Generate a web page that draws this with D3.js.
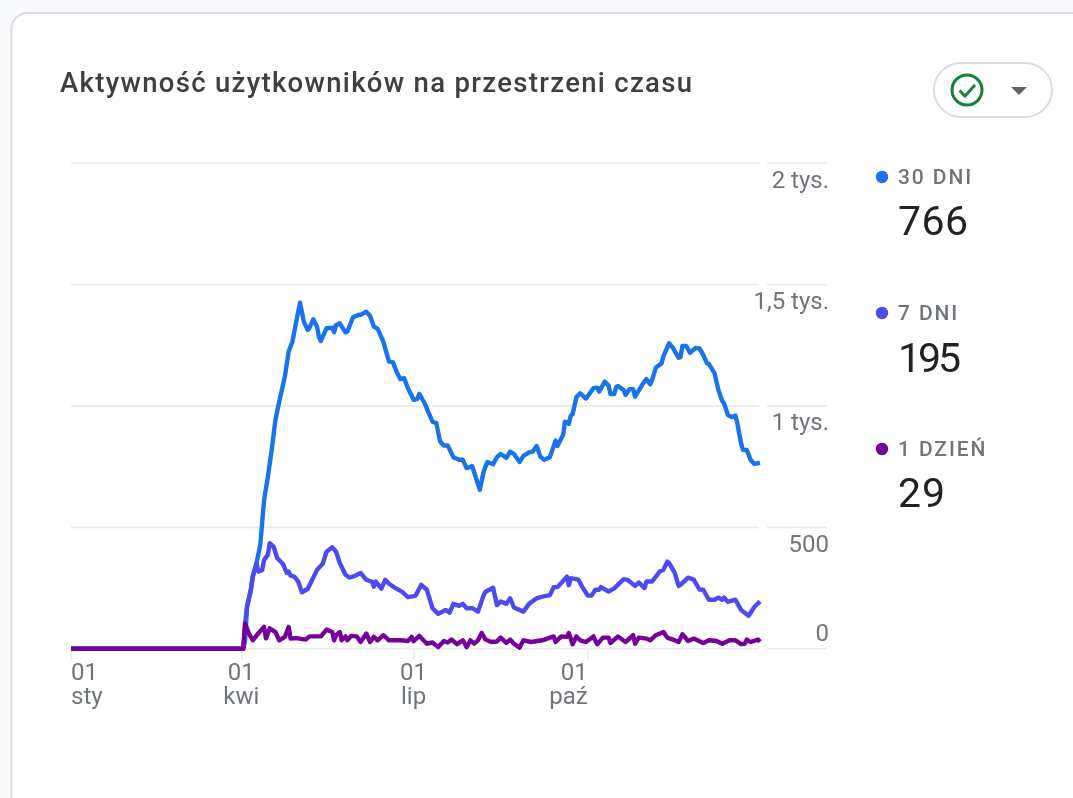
<!DOCTYPE html>
<html lang="pl">
<head>
<meta charset="utf-8">
<script src="https://cdn.jsdelivr.net/npm/d3@7"></script>
<style>
html,body{margin:0;padding:0;background:#f8f9fa;overflow:hidden}
svg{display:block;filter:blur(0.35px)}
text{font-family:Roboto,sans-serif}
</style>
</head>
<body>
<svg id="chart" width="1073" height="798"></svg>
<script>
const titleText = "Aktywność użytkowników na przestrzeni czasu";
const yTickValues = [0, 500, 1000, 1500, 2000];
const yTickLabels = ["0", "500", "1 tys.", "1,5 tys.", "2 tys."];
const xTickDays = [0, 90, 181, 273];
const xTickDay = ["01", "01", "01", "01"];
const xTickMonth = ["sty", "kwi", "lip", "paź"];
const seriesNames = ["30 DNI", "7 DNI", "1 DZIEŃ"];
const seriesTotals = ["766", "195", "29"];
const seriesColors = ["#1a73e8", "#4b4bef", "#75009a"];

const days30 = [0,91,92,93,95,96,98,100,102,104,106,108,110,113,115,117,119,121,123,125,126,128,130,131,132,135,138,139,140,142,145,146,149,152,153,156,158,160,162,165,168,170,172,174,176,178,181,183,184,187,189,191,193,195,197,199,202,205,207,209,212,215,216,218,219,220,223,225,227,230,232,234,237,239,242,244,246,248,250,253,256,257,260,261,263,264,265,267,269,272,276,278,279,282,284,285,287,288,289,292,293,295,297,298,302,304,306,307,309,312,313,316,318,321,322,323,325,327,330,332,334,336,337,340,342,344,345,347,349,351,352,354,355,357,359,361,364];
const values30 = [0,0,35,172,240,296,352,428,612,708,818,942,1018,1121,1224,1265,1347,1425,1347,1313,1321,1357,1326,1283,1267,1320,1322,1303,1332,1340,1303,1305,1365,1375,1375,1388,1370,1326,1317,1265,1182,1180,1141,1110,1114,1073,1025,1029,1050,1008,970,935,929,853,837,837,789,778,778,744,752,677,655,730,750,769,760,789,802,786,812,802,769,794,809,812,835,791,778,789,857,835,881,935,926,959,966,1036,1052,1030,1073,1075,1059,1100,1084,1049,1049,1077,1082,1065,1045,1069,1069,1038,1090,1110,1089,1107,1158,1175,1205,1258,1239,1198,1201,1247,1247,1219,1239,1237,1210,1175,1173,1134,1066,1021,1011,963,954,960,929,846,819,819,778,761,766];

const days7 = [0,91,92,93,95,96,98,99,101,102,104,105,107,109,112,114,115,116,118,120,122,125,127,130,133,135,138,140,142,145,147,149,153,156,159,160,161,164,166,168,171,175,178,182,185,188,191,194,198,200,202,205,207,209,212,215,218,219,223,225,227,230,232,234,239,242,246,249,253,255,257,262,263,264,268,270,273,275,277,279,280,284,287,292,294,298,300,303,304,307,311,313,315,316,319,321,322,326,329,332,334,337,340,342,344,345,347,351,354,358,361,364];
const values7 = [0,0,107,174,243,298,353,318,324,365,387,435,421,373,349,312,318,301,297,277,233,246,277,325,350,400,418,400,353,305,293,297,312,284,277,256,277,248,284,268,252,234,213,218,263,243,167,144,160,149,185,177,185,167,167,153,221,235,251,180,195,185,208,170,153,185,208,215,221,254,254,297,262,291,285,256,219,219,243,243,254,236,249,287,284,259,273,250,277,277,318,325,359,353,312,259,263,293,285,244,243,202,202,211,202,211,193,202,160,136,172,195];

const days1 = [0,91,92,94,96,99,102,103,105,108,110,113,115,116,119,124,126,132,135,138,139,140,142,143,145,146,148,151,153,156,158,160,162,165,168,174,178,180,181,184,188,191,194,197,199,201,204,207,209,211,213,215,217,219,222,225,227,230,232,234,237,239,243,249,255,256,259,262,263,265,267,269,272,276,278,281,284,285,289,293,297,298,300,304,306,309,313,315,318,321,323,326,329,334,337,341,344,348,351,354,356,357,359,363,364];
const values1 = [0,0,104,63,35,64,90,43,84,69,35,49,90,42,44,38,51,51,79,69,35,56,69,35,51,35,53,51,28,63,28,49,35,56,35,35,32,49,31,53,21,26,7,32,26,38,19,35,7,35,21,35,65,38,28,30,46,24,38,21,5,35,28,35,51,28,51,49,65,19,51,35,28,51,19,46,46,24,51,28,56,21,46,42,35,56,69,46,38,28,60,32,42,24,35,32,21,35,35,19,21,38,28,38,29];

const seriesDays = [days30, days7, days1];
const seriesValues = [values30, values7, values1];

const svg = d3.select("#chart");
const gridColor = "#e8eaed";
const labelColor = "#70757a";

// Card
svg.append("rect").attr("x", 11.5).attr("y", 13).attr("width", 1200).attr("height", 1000)
  .attr("rx", 16).attr("fill", "#fff").attr("stroke", "#dadce0").attr("stroke-width", 2);

svg.append("text").text(titleText).attr("x", 60).attr("y", 92)
  .attr("font-size", 27.5).attr("font-weight", 500).attr("fill", "#3c4043")
  .attr("textLength", 632).attr("lengthAdjust", "spacing");

// Status pill
svg.append("rect").attr("x", 934).attr("y", 63).attr("width", 118).attr("height", 54)
  .attr("rx", 27).attr("fill", "#fff").attr("stroke", "#dadce0").attr("stroke-width", 2);
svg.append("circle").attr("cx", 967).attr("cy", 90).attr("r", 15)
  .attr("fill", "none").attr("stroke", "#188038").attr("stroke-width", 3);
svg.append("path").attr("d", "M959.5 90.5l5.5 5.5 10-11").attr("fill", "none")
  .attr("stroke", "#188038").attr("stroke-width", 3);
svg.append("path").attr("d", "M1011 87h16l-8 8z").attr("fill", "#5f6368");

// Scales
const x = d3.scaleLinear().domain([0, 364]).range([71, 760]);
const y = d3.scaleLinear().domain([0, 2000]).range([648.8, 163]);

// Gridlines: plot part and label part
const gridSegments = [[71, 759], [767, 827]];
const grid = svg.append("g");
gridSegments.forEach(seg => {
  grid.append("g").selectAll("line").data(yTickValues).join("line")
    .attr("x1", seg[0]).attr("x2", seg[1])
    .attr("y1", d => y(d)).attr("y2", d => y(d))
    .attr("stroke", gridColor).attr("stroke-width", 1.6);
});

// Y axis labels
const yLabelOffset = d => d === 0 ? -8 : 24;
const yAxis = d3.axisRight(y).tickValues(yTickValues)
  .tickFormat(d => yTickLabels[yTickValues.indexOf(d)]).tickSize(0);
const gy = svg.append("g").attr("transform", "translate(829,0)").call(yAxis);
gy.select(".domain").remove();
gy.selectAll("text").attr("x", 0).attr("dy", null).attr("y", d => yLabelOffset(d))
  .attr("text-anchor", "end").attr("font-size", 24).attr("font-family", "Roboto,sans-serif")
  .attr("fill", labelColor);

// X axis ticks
const xAxis = d3.axisBottom(x).tickValues(xTickDays).tickSize(11).tickFormat("");
const gx = svg.append("g").attr("transform", "translate(0,649)").call(xAxis);
gx.select(".domain").remove();
gx.selectAll("line").attr("stroke", gridColor).attr("stroke-width", 1.6);
gx.selectAll("text").remove();

const xAnchors = ["start", "middle", "middle", "end"];
xTickDays.forEach((d, i) => {
  const t = svg.append("text").attr("text-anchor", xAnchors[i])
    .attr("font-size", 24).attr("fill", labelColor);
  t.append("tspan").attr("x", x(d)).attr("y", 680).text(xTickDay[i]);
  t.append("tspan").attr("x", x(d)).attr("y", 704).text(xTickMonth[i]);
});

// Lines
const line = d3.line().x(p => x(p[0])).y(p => y(p[1])).curve(d3.curveLinear);
seriesValues.forEach((vals, i) => {
  const pts = vals.map((v, k) => [seriesDays[i][k], v]);
  svg.append("path").datum(pts).attr("d", line).attr("fill", "none")
    .attr("stroke", seriesColors[i]).attr("stroke-width", 4.4)
    .attr("stroke-linejoin", "round").attr("stroke-linecap", "butt");
});

// Legend
const legendY = [184, 320, 456];
const legendValueY = [235, 372, 507];
const legendValueWidths = [70, 63, 47];
seriesNames.forEach((n, i) => {
  svg.append("circle").attr("cx", 882).attr("cy", legendY[i] - 7).attr("r", 6.2)
    .attr("fill", seriesColors[i]);
  svg.append("text").text(n).attr("x", 898).attr("y", legendY[i])
    .attr("font-size", 21).attr("font-weight", 500).attr("letter-spacing", 1.9)
    .attr("fill", labelColor);
  svg.append("text").text(seriesTotals[i]).attr("x", 898).attr("y", legendValueY[i])
    .attr("font-size", 41).attr("fill", "#202124")
    .attr("textLength", legendValueWidths[i]).attr("lengthAdjust", "spacing");
});
</script>
</body>
</html>
